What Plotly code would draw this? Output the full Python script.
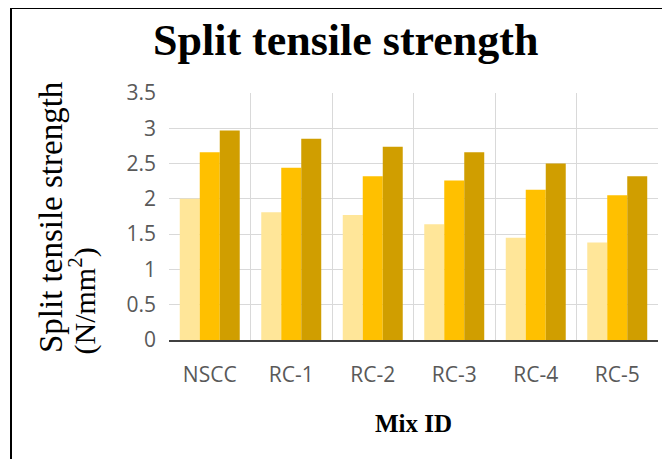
import plotly.graph_objects as go

categories = ["NSCC", "RC-1", "RC-2", "RC-3", "RC-4", "RC-5"]
series_a = [2.00, 1.81, 1.77, 1.64, 1.45, 1.38]
series_b = [2.66, 2.44, 2.32, 2.26, 2.13, 2.05]
series_c = [2.97, 2.85, 2.74, 2.66, 2.50, 2.32]
y_tick_vals = [0, 0.5, 1, 1.5, 2, 2.5, 3, 3.5]
y_tick_text = ["0", "0.5", "1", "1.5", "2", "2.5", "3", "3.5"]

colors = ["#FFE699", "#FFC000", "#D09E00"]

# page body has an 8px margin, so the figure is drawn 8px smaller and all
# reference pixel positions are shifted by -8
OFF = 8
W, H = 670 - OFF, 459 - OFF
L, R, T, B = 169 - OFF, 12, 93 - OFF, 119
pw = W - L - R
ph = H - T - B

def px_x(px):
    return (px - OFF - L) / pw

def px_y(py):
    return (H - B - (py - OFF)) / ph

fig = go.Figure()
for vals, col in zip([series_a, series_b, series_c], colors):
    fig.add_trace(go.Bar(x=categories, y=vals, marker=dict(color=col, line=dict(width=0)),
                         showlegend=False))

fig.update_layout(
    width=W, height=H,
    margin=dict(l=L, r=R, t=T, b=B, autoexpand=False),
    paper_bgcolor="white", plot_bgcolor="white",
    barmode="group", bargap=0.264, bargroupgap=0,
    font=dict(family="Open Sans", color="#595959"),
    xaxis=dict(
        type="category", tickson="boundaries", showgrid=True, gridcolor="#D9D9D9", gridwidth=1,
        showline=True, linecolor="#404040", linewidth=2, ticks="",
        tickfont=dict(family="Open Sans", size=21, color="#595959"),
        ticklabelstandoff=15,
    ),
    yaxis=dict(
        range=[0, 3.5], tickvals=y_tick_vals, ticktext=y_tick_text,
        showgrid=True, gridcolor="#D9D9D9", gridwidth=1, zeroline=False,
        showline=False, ticks="",
        tickfont=dict(family="Open Sans", size=21, color="#595959"),
        ticklabelstandoff=12,
    ),
    annotations=[
        dict(text="<b>Split tensile strength</b>", xref="paper", yref="paper",
             x=px_x(345), y=px_y(40), xanchor="center", yanchor="middle", showarrow=False,
             font=dict(family="Liberation Serif", size=44, color="#000000")),
        dict(text="Split tensile strength", xref="paper", yref="paper",
             x=px_x(51), y=px_y(355), xanchor="center", yanchor="bottom", textangle=-90,
             showarrow=False, font=dict(family="Liberation Serif", size=33, color="#000000")),
        dict(text="(N/mm<sup>2</sup>)", xref="paper", yref="paper",
             x=px_x(83), y=px_y(357), xanchor="center", yanchor="bottom", textangle=-90,
             showarrow=False, font=dict(family="Liberation Serif", size=30, color="#000000")),
        dict(text="<b>Mix ID</b>", xref="paper", yref="paper",
             x=px_x(413), y=px_y(423), xanchor="center", yanchor="middle", showarrow=False,
             font=dict(family="Liberation Serif", size=25, color="#000000")),
    ],
    shapes=[
        dict(type="line", xref="paper", yref="paper", x0=px_x(11), x1=px_x(680),
             y0=px_y(8), y1=px_y(8), line=dict(color="#000000", width=2)),
        dict(type="line", xref="paper", yref="paper", x0=px_x(11), x1=px_x(11),
             y0=px_y(8), y1=px_y(470), line=dict(color="#000000", width=2)),
    ],
)

fig.write_html("out.html")
